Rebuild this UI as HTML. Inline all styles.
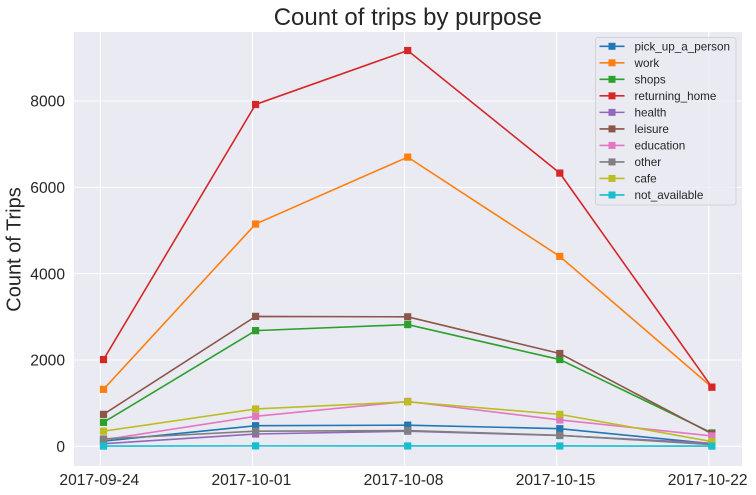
<!DOCTYPE html>
<html lang="en">
<head>
<meta charset="utf-8">
<title>Count of trips by purpose</title>
<style>
  html, body { margin: 0; padding: 0; background: #fff; }
  svg { display: block; font-family: "Liberation Sans", Arial, sans-serif; }
</style>
</head>
<body>
<svg id="chart" xmlns="http://www.w3.org/2000/svg" width="756" height="495" viewBox="0 0 756 495"></svg>
<script>
const categories = ['2017-09-24', '2017-10-01', '2017-10-08', '2017-10-15', '2017-10-22'];
const yTicks = [0, 2000, 4000, 6000, 8000];
const seriesNames = ['pick_up_a_person', 'work', 'shops', 'returning_home', 'health', 'leisure', 'education', 'other', 'cafe', 'not_available'];
const seriesColors = ['#1f77b4', '#ff7f0e', '#2ca02c', '#d62728', '#9467bd', '#8c564b', '#e377c2', '#7f7f7f', '#bcbd22', '#17becf'];
const pickUpAPerson = [120, 477, 490, 408, 60];
const work = [1320, 5150, 6700, 4400, 1370];
const shops = [555, 2680, 2820, 2010, 310];
const returningHome = [2010, 7920, 9170, 6330, 1370];
const health = [60, 285, 350, 250, 70];
const leisure = [740, 3010, 3000, 2150, 290];
const education = [150, 695, 1040, 610, 240];
const other = [170, 350, 365, 255, 40];
const cafe = [350, 865, 1030, 740, 110];
const notAvailable = [5, 10, 8, 8, 5];
const seriesValues = [pickUpAPerson, work, shops, returningHome, health, leisure, education, other, cafe, notAvailable];

const NS = 'http://www.w3.org/2000/svg';
const svg = document.getElementById('chart');
const plot = { left: 74, right: 742, top: 32, bottom: 466 };

function xTick(i) { return 100.3 + 152.1 * i; }
function xData(i) { return xTick(i) + 3.2; }
function y(v) { return 446.3 - v * 0.04316; }

function make(tag, attrs, parent, text) {
  const el = document.createElementNS(NS, tag);
  for (const k in attrs) el.setAttribute(k, attrs[k]);
  if (text !== undefined) el.textContent = text;
  (parent || svg).appendChild(el);
  return el;
}

const bg = make('rect', { x: plot.left, y: plot.top, width: plot.right - plot.left, height: plot.bottom - plot.top, fill: '#eaeaf2' });



yTicks.forEach(function (t) {
  const g = make('line', { x1: plot.left, x2: plot.right, y1: y(t), y2: y(t), stroke: '#fff', 'stroke-width': 1 });
  
  
  const l = make('text', { x: 65, y: y(t) + 5.6, 'text-anchor': 'end', 'font-size': 15.6, fill: '#262626' }, svg, String(t));
  
  
});

categories.forEach(function (c, i) {
  const g = make('line', { x1: xTick(i), x2: xTick(i), y1: plot.top, y2: plot.bottom, stroke: '#fff', 'stroke-width': 1 });
  
  
  const l = make('text', { x: xTick(i) - 1, y: 485, 'text-anchor': 'middle', 'font-size': 15.6, fill: '#262626' }, svg, c);
  
  
});

seriesNames.forEach(function (name, s) {
  const group = make('g', {});
  
  
  const pts = seriesValues[s].map(function (v, i) { return xData(i).toFixed(2) + ',' + y(v).toFixed(2); }).join(' ');
  const line = make('polyline', { points: pts, fill: 'none', stroke: seriesColors[s], 'stroke-width': 1.6 }, group);
  
  
  seriesValues[s].forEach(function (v, i) {
    const m = make('rect', { x: xData(i) - 3.6, y: y(v) - 3.6, width: 7.2, height: 7.2, fill: seriesColors[s] }, group);
    
    
  });
});

const title = make('text', { x: 407.8, y: 25, 'text-anchor': 'middle', 'font-size': 24, fill: '#262626' }, svg, 'Count of trips by purpose');



const yTitle = make('text', { x: 0, y: 0, transform: 'translate(20.5,249.5) rotate(-90)', 'text-anchor': 'middle', 'font-size': 20, fill: '#262626' }, svg, 'Count of Trips');



const legend = make('g', {});


const legendBox = make('rect', { x: 595.5, y: 37.5, width: 140.5, height: 167.5, rx: 2.5, fill: '#eaeaf2', 'fill-opacity': 0.8, stroke: '#cccccc', 'stroke-opacity': 0.8, 'stroke-width': 1 }, legend);


seriesNames.forEach(function (name, s) {
  const ry = 46.3 + 16.52 * s;
  const entry = make('g', {}, legend);
  
  
  make('line', { x1: 599.5, x2: 624.5, y1: ry, y2: ry, stroke: seriesColors[s], 'stroke-width': 1.6 }, entry);
  make('rect', { x: 608.5, y: ry - 3.5, width: 7, height: 7, fill: seriesColors[s] }, entry);
  make('text', { x: 634.5, y: ry + 4.2, 'font-size': 11.7, fill: '#262626' }, entry, name);
});
</script>
</body>
</html>
